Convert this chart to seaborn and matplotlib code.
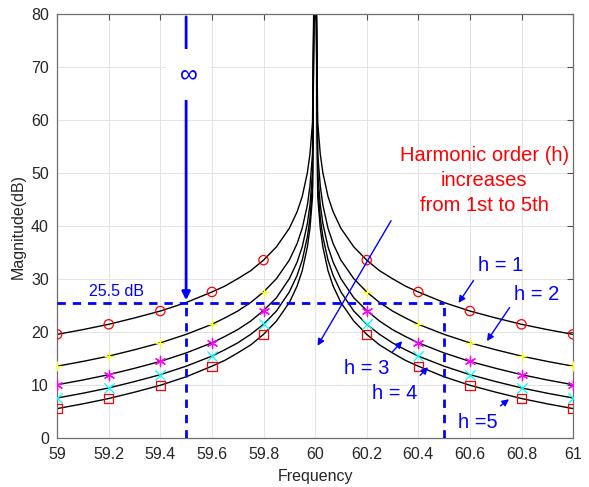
import matplotlib
matplotlib.use("Agg")
import matplotlib.pyplot as plt
import seaborn as sns
import pandas as pd

offsets = [1.0, 0.9, 0.8, 0.7, 0.6, 0.5, 0.4, 0.35, 0.3, 0.25, 0.2, 0.15,
           0.1, 0.07, 0.05, 0.03, 0.02, 0.01, 0.0015]

# magnitude (dB) for each harmonic order (same on both sides of 60 Hz)
mag_h1 = [19.6, 20.5, 21.5, 22.7, 24.0, 25.6, 27.6, 28.7, 30.1, 31.6, 33.6, 36.1, 39.6, 42.7, 45.6, 50.1, 53.6, 59.6, 100]
mag_h2 = [13.6, 14.5, 15.5, 16.7, 18.0, 19.6, 21.5, 22.7, 24.0, 25.6, 27.6, 30.1, 33.6, 36.7, 39.6, 44.0, 47.6, 53.6, 100]
mag_h3 = [10.1, 11.0, 12.0, 13.2, 14.5, 16.1, 18.0, 19.2, 20.5, 22.1, 24.1, 26.5, 30.1, 33.2, 36.1, 40.5, 44.0, 50.1, 100]
mag_h4 = [7.6, 8.5, 9.5, 10.7, 12.0, 13.6, 15.5, 16.7, 18.0, 19.6, 21.5, 24.0, 27.6, 30.7, 33.6, 38.0, 41.5, 47.6, 100]
mag_h5 = [5.6, 6.5, 7.5, 8.7, 10.0, 11.6, 13.6, 14.7, 16.1, 17.6, 19.6, 22.1, 25.6, 28.7, 31.6, 36.1, 39.6, 45.6, 100]

marker_freqs = [59.0, 59.2, 59.4, 59.6, 59.8, 60.2, 60.4, 60.6, 60.8, 61.0]
marker_styles = {1: ('o', 'red', True), 2: ('+', 'yellow', False), 3: ((6, 2, 0), 'magenta', False),
                 4: ('x', 'cyan', False), 5: ('s', 'red', True)}

level_db = 25.5
f_low, f_high = 59.5, 60.5

rows = []
for h, mags in zip([1, 2, 3, 4, 5], [mag_h1, mag_h2, mag_h3, mag_h4, mag_h5]):
    for d, m in zip(offsets, mags):
        rows.append({'h': h, 'freq': round(60 - d, 4), 'mag': m})
        rows.append({'h': h, 'freq': round(60 + d, 4), 'mag': m})
df = pd.DataFrame(rows).sort_values(['h', 'freq'])

sns.set_style("whitegrid")
plt.rcParams['font.family'] = ['Liberation Sans', 'DejaVu Sans']

fig = plt.figure(figsize=(5.89, 4.87), dpi=100)
ax = fig.add_axes([0.097, 0.1, 0.876, 0.871])

sns.lineplot(data=df, x='freq', y='mag', hue='h', palette=['black'] * 5,
             sort=True, estimator=None, linewidth=1.0, legend=False, ax=ax)

for h, (mk, col, hollow) in marker_styles.items():
    sub = df[(df['h'] == h) & (df['freq'].isin(marker_freqs))]
    if hollow:
        sns.scatterplot(data=sub, x='freq', y='mag', marker=mk, s=45, facecolor='none',
                        edgecolor=col, linewidth=0.9, ax=ax, zorder=3, legend=False)
    else:
        sns.scatterplot(data=sub, x='freq', y='mag', marker=mk, s=55, color=col,
                        linewidth=0.9, ax=ax, zorder=3, legend=False)

# dashed guide lines
ax.hlines(level_db, 59, f_high, colors='blue', linestyles=(0, (3, 2.5)), lw=2, zorder=4)
ax.vlines([f_low, f_high], 0, level_db, colors='blue', linestyles=(0, (3, 2.5)), lw=2, zorder=4)
ax.text(59.23, 27.7, '25.5 dB', color='blue', fontsize=11.5, ha='center', va='center')

# infinity arrow
ax.annotate('', xy=(f_low, level_db), xytext=(f_low, 80),
            arrowprops=dict(arrowstyle='-|>', color='blue', lw=2, mutation_scale=12), zorder=4)
ax.text(59.51, 68.6, '\u221e', color='blue', fontsize=18, ha='center', va='center', zorder=5,
        bbox=dict(boxstyle='square,pad=0.55', fc='white', ec='none'))

ax.text(60.655, 48.6, 'Harmonic order (h)\nincreases\nfrom 1st to 5th', color='red',
        fontsize=14.5, ha='center', va='center', linespacing=1.4)
ax.annotate('', xy=(60.004, 17.0), xytext=(60.30, 41.5),
            arrowprops=dict(arrowstyle='-|>', color='blue', lw=1, mutation_scale=10))

labels = [('h = 1', (60.72, 32.6), (60.62, 30.2), (60.55, 25.1)),
          ('h = 2', (60.86, 27.2), (60.76, 25.1), (60.66, 17.9)),
          ('h = 3', (60.20, 13.2), (60.29, 15.8), (60.345, 18.7)),
          ('h = 4', (60.31, 8.5), (60.40, 11.5), (60.445, 13.8)),
          ('h =5', (60.63, 3.0), (60.71, 5.8), (60.76, 7.7))]
for txt, tpos, a0, a1 in labels:
    ax.text(tpos[0], tpos[1], txt, color='blue', fontsize=14.5, ha='center', va='center')
    ax.annotate('', xy=a1, xytext=a0,
                arrowprops=dict(arrowstyle='-|>', color='blue', lw=1, mutation_scale=10))

ax.set_xlim(59, 61)
ax.set_ylim(0, 80)
ax.set_xticks([59, 59.2, 59.4, 59.6, 59.8, 60, 60.2, 60.4, 60.6, 60.8, 61])
ax.set_xticklabels(['59', '59.2', '59.4', '59.6', '59.8', '60', '60.2', '60.4', '60.6', '60.8', '61'])
ax.set_yticks(range(0, 81, 10))
ax.set_xlabel('Frequency', fontsize=11.5, color='#262626', labelpad=5)
ax.set_ylabel('Magnitude(dB)', fontsize=11.5, color='#262626', labelpad=4)
ax.tick_params(direction='in', length=4, top=True, right=True, labelsize=11.5,
               colors='#4d4d4d', labelcolor='#262626', pad=6)
ax.grid(True, color='#e3e3e3', lw=0.7)
for sp in ax.spines.values():
    sp.set_color('#6e6e6e')
    sp.set_linewidth(0.9)

fig.savefig('out.png', dpi=100)
